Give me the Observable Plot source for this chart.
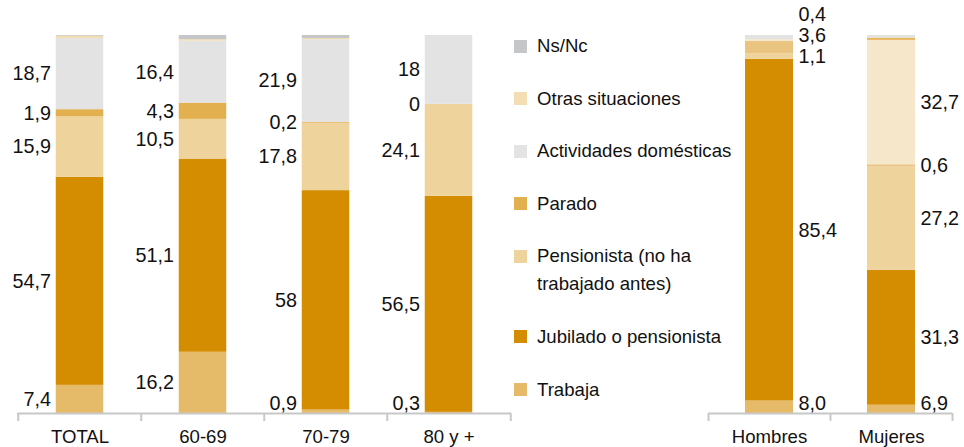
<!DOCTYPE html>
<html><head><meta charset="utf-8">
<script src="https://cdn.jsdelivr.net/npm/d3@7"></script>
<script src="https://cdn.jsdelivr.net/npm/@observablehq/plot@0.6"></script>
<style>
body{margin:0;background:#fff;}
#wrap{position:relative;width:964px;height:447px;overflow:hidden;font-family:"Liberation Sans",Arial,sans-serif;}
#left{position:absolute;left:0;top:0;}
#right{position:absolute;left:690px;top:0;}
#legend{position:absolute;left:514px;top:32px;display:flex;flex-direction:column;gap:24.6px;font-size:18.6px;line-height:28px;color:#111;}
.item{display:flex;align-items:flex-start;}
.sw{width:13px;height:13px;margin-top:7.5px;margin-right:10px;flex-shrink:0;}
.lb{max-width:205px;}
</style></head><body>
<div id="wrap"><div id="left"></div><div id="legend"></div><div id="right"></div></div>
<script>
// stack order, bottom to top
const series = ["Trabaja","Jubilado o pensionista","Pensionista (no ha trabajado antes)","Parado","Actividades domésticas","Otras situaciones","Ns/Nc"];
const leftColors  = ["#e5bb6a","#d48c00","#efd39c","#e3b04f","#e2e3e2","#f3ddb3","#c5c6c8"];
const rightColors = ["#e5bb6a","#d48c00","#efd39c","#e8c480","#f6e6ca","#e8b45c","#e2e3e2"];

const ageGroups = ["TOTAL","60-69","70-79","80 y +"];
const sexes = ["Hombres","Mujeres"];

// segment values per bar (same order as series)
const totalValues = [7.4, 54.7, 15.9, 1.9, 18.7, 0.6, 0.2];
const age6069Values = [16.2, 51.1, 10.5, 4.3, 16.4, 0.4, 1.1];
const age7079Values = [0.9, 58, 17.8, 0.2, 21.9, 0.3, 0.8];
const age80Values = [0.3, 56.5, 24.1, 0, 18, 0, 0];
const hombresValues = [3.3, 90.5, 1.4, 3.3, 0.5, 0, 1.1];
const mujeresValues = [2.2, 35.8, 27.5, 0.5, 33.0, 0.6, 0.7];

// printed labels per bar (null = no label)
const totalLabels = ["7,4","54,7","15,9","1,9","18,7",null,null];
const age6069Labels = ["16,2","51,1","10,5","4,3","16,4",null,null];
const age7079Labels = ["0,9","58","17,8","0,2","21,9",null,null];
const age80Labels = ["0,3","56,5","24,1","0","18",null,null];
const hombresLabels = ["8,0","85,4","1,1","3,6","0,4",null,null];
const mujeresLabels = ["6,9","31,3","27,2","0,6","32,7",null,null];

const leftValues = [totalValues, age6069Values, age7079Values, age80Values];
const leftLabels = [totalLabels, age6069Labels, age7079Labels, age80Labels];
const rightValues = [hombresValues, mujeresValues];
const rightLabels = [hombresLabels, mujeresLabels];

function segRows(bars, vals) {
  const rows = [];
  bars.forEach((b, j) => vals[j].forEach((v, i) => rows.push({bar: b, series: series[i], value: v})));
  return rows;
}
function labRows(bars, vals, labs) {
  const rows = [];
  bars.forEach((b, j) => {
    const total = d3.sum(vals[j]);
    let cum = 0, prev = -Infinity;
    vals[j].forEach((v, i) => {
      const c = (cum + v / 2) / total;
      cum += v;
      if (labs[j][i] == null) return;
      const y = Math.max(c, 0.0265, prev + 0.056);
      prev = y;
      rows.push({bar: b, y, text: labs[j][i]});
    });
  });
  return rows;
}

const font = "'Liberation Sans', Arial, sans-serif";
const axisColor = "#c8c8c8";

function panel(bars, vals, labs, colors, opts) {
  const bw = (opts.width - opts.ml - opts.mr) / bars.length;
  const inset = (bw - 48) / 2;
  return Plot.plot({
    width: opts.width, height: 447,
    marginTop: 35, marginBottom: 34, marginLeft: opts.ml, marginRight: opts.mr,
    x: {domain: bars, padding: 0, label: null},
    y: {domain: [0, 1], axis: null},
    color: {domain: series, range: colors},
    style: {fontFamily: font, fontSize: "18px", color: "#111", background: "transparent", overflow: "visible"},
    marks: [
      Plot.barY(segRows(bars, vals), {x: "bar", y: "value", fill: "series", offset: "normalize", insetLeft: inset, insetRight: inset}),
      Plot.ruleY([0], {stroke: axisColor, strokeWidth: 2}),
      Plot.axisX({tickSize: 0, tickPadding: 16, fontSize: 18.6, label: null}),
      Plot.axisX({tickSize: 8, tickFormat: () => "", dx: -bw / 2, stroke: axisColor, strokeWidth: 2, label: null}),
      Plot.axisX({ticks: [bars[bars.length - 1]], tickSize: 8, tickFormat: () => "", dx: bw / 2, stroke: axisColor, strokeWidth: 2, label: null}),
      Plot.text(labRows(bars, vals, labs), {x: "bar", y: "y", text: "text", dx: opts.side * 29, textAnchor: opts.side < 0 ? "end" : "start", fontSize: 19.8, fill: "#111"})
    ]
  });
}

document.getElementById("left").append(panel(ageGroups, leftValues, leftLabels, leftColors, {width: 530, ml: 17, mr: 19, side: -1}));
document.getElementById("right").append(panel(sexes, rightValues, rightLabels, rightColors, {width: 274, ml: 18, mr: 12, side: 1}));

// legend: top of stack first
const legend = document.getElementById("legend");
series.map((s, i) => ({s, c: leftColors[i]})).reverse().forEach(({s, c}) => {
  const item = document.createElement("div");
  item.className = "item";
  const sw = document.createElement("div");
  sw.className = "sw"; sw.style.background = c;
  const lb = document.createElement("div");
  lb.className = "lb"; lb.textContent = s;
  item.append(sw, lb);
  legend.append(item);
});
</script>
</body></html>
